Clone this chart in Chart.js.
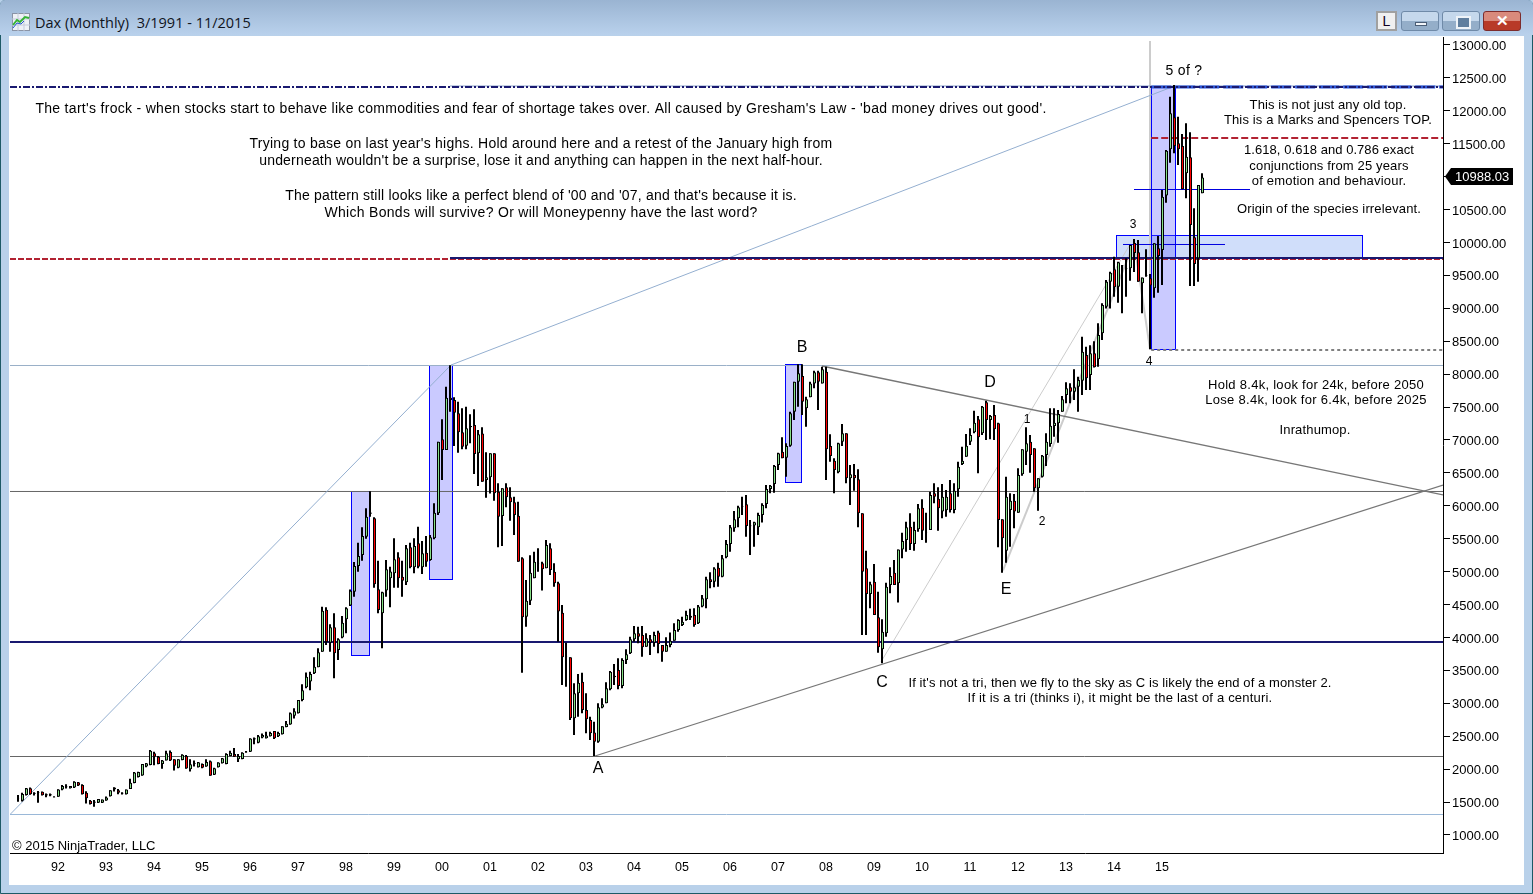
<!DOCTYPE html>
<html>
<head>
<meta charset="utf-8">
<title>Dax (Monthly)</title>
<script src="https://cdn.jsdelivr.net/npm/chart.js@4"></script>
<style>
    html, body { margin: 0; padding: 0; width: 1533px; height: 894px; overflow: hidden; background: #b9d1ea; font-family: "Liberation Sans", Arial, sans-serif; }
    #frame { position: absolute; left: 0; top: 0; width: 1531px; height: 892px; border: 1px solid #1d5a66; border-radius: 5px 5px 0 0; background: #b9d1ea; }
    #titlebar { position: absolute; left: 0; top: 0; width: 100%; height: 35px; background: linear-gradient(#9ab4d2, #b9d1ec); border-radius: 5px 5px 0 0; }
    #icon { position: absolute; left: 12px; top: 13px; }
    #caption { position: absolute; left: 35px; top: 13px; font: 14.5px "Open Sans", sans-serif; color: #10141c; white-space: pre; }
    .btn { position: absolute; top: 11px; height: 20px; box-sizing: border-box; border: 1px solid #6f8aa8; border-radius: 3px; background: linear-gradient(#c5d8ec 0 50%, #94aec9 50% 100%); }
    #btnL { left: 1376px; width: 21px; background: #f0f0f0; border: 2px solid #a0a0a0; border-radius: 0; text-align: center; font: 14px/16px "Liberation Sans"; color: #102; }
    #btnMin { left: 1401px; width: 38px; }
    #btnMin::after { content: ""; position: absolute; left: 13px; top: 10px; width: 12px; height: 4px; background: #f2f6fa; border: 1px solid #4a5d75; box-sizing: border-box; }
    #btnMax { left: 1442px; width: 38px; }
    #btnMax::after { content: ""; position: absolute; left: 13px; top: 4px; width: 11px; height: 9px; background: #5f7e9e; border: 2px solid #eef3f8; }
    #btnClose { left: 1483px; width: 38px; background: linear-gradient(#d98a7c 0 50%, #b83a28 50% 100%); border-color: #7d2c2c; color: #fff; text-align: center; font: bold 15px/17px "Liberation Sans"; }
    #chartBox { position: absolute; left: 9px; top: 36px; width: 1515px; height: 849px; background: #fff; }
</style>
</head>
<body>
<div id="frame"></div>
<div id="titlebar">
    <svg id="icon" width="18" height="18" viewBox="0 0 18 18">
        <rect x="0.5" y="0.5" width="17" height="17" fill="#eef1f6" stroke="#8a94a6"/>
        <path d="M0 6H18M0 12H18M6 0V18M12 0V18" stroke="#c5cbdb" fill="none"/>
        <path d="M1 12L5 7L8 9L13 4L17 5" stroke="#35b335" stroke-width="2" fill="none"/>
        <path d="M1 15L5 10L9 11L12 8" stroke="#2255cc" fill="none"/>
    </svg>
    <div id="caption">Dax (Monthly)  3/1991 - 11/2015</div>
    <div class="btn" id="btnL">L</div>
    <div class="btn" id="btnMin"></div>
    <div class="btn" id="btnMax"></div>
    <div class="btn" id="btnClose">✕</div>
</div>
<div id="chartBox"><canvas id="daxChart" width="1515" height="849"></canvas></div>

<script>
// Monthly bars from 3/1991 to 11/2015. Index 0 = March 1991.
const opens = [
    1550,1522,1608,1709,1625,1640,1655,1600,1620,1575,
    1582,1690,1725,1710,1720,1800,1760,1640,1520,1490,1490,1490,
    1525,1590,1690,1680,1630,1620,1700,1790,1880,1905,2040,2065,
    2240,2190,2080,2130,2260,2150,2020,2140,2200,2000,2080,2030,
    2080,2040,2120,1917,2030,2090,2080,2200,2230,2150,2155,2255,
    2265,2450,2400,2480,2470,2500,2580,2500,2530,2640,2680,2810,
    2850,3050,3243,3330,3455,3547,3785,4420,3920,4155,3810,4000,
    4276,4485,4696,5086,5253,5531,5900,5810,4732,4367,4712,4900,
    4975,5218,4924,4838,5370,5066,5430,5066,5288,5177,5506,5886,
    7010,6848,7643,7606,7405,7116,6914,7193,7228,6797,7100,6392,
    6433,6797,6215,5846,6281,6129,6053,5851,5203,4317,4560,4899,
    5127,5127,5051,5355,5000,4823,4377,3709,3699,2772,3152,3329,
    2899,2747,2555,2418,2935,3000,3213,3395,3507,3264,3659,3760,
    3972,4063,4038,3861,3972,3922,4074,3886,3785,3886,3952,4114,
    4190,4266,4300,4342,4215,4469,4580,4884,4848,5061,4924,5218,
    5420,5658,5810,5985,6023,5690,5700,5674,5860,6028,6256,6332,
    6620,6823,6732,6914,7430,7886,7972,7481,7648,7860,8028,7860,
    8038,6909,6686,6509,6974,7101,6418,6468,6403,5886,5051,4661,
    4848,4306,3820,4063,4797,4985,4823,5335,5481,5684,5420,5643,
    5972,5600,5633,6190,6109,5912,5932,6190,5937,6250,6636,6747,
    6974,7116,7314,7101,7572,7304,7380,7253,5795,5319,5937,6078,
    5896,6479,6823,6974,6873,6266,6443,6772,6939,7213,7253,7430,
    7684,7800,7734,7810,7901,8291,7987,8316,8225,8621,9025,9405,
    9593,9329,9650,9610,9608,9992,9851,9380,9500,9456,9304,9912,
    9886,10712,11415,11901,11506,11466,11051,11294,10079,9760,10747
];
const highs = [
    1608,1640,1715,1720,1650,1670,1660,1630,1630,1590,
    1695,1760,1770,1745,1815,1805,1770,1665,1530,1530,1545,1540,
    1585,1680,1725,1700,1650,1690,1855,1955,1960,2080,2095,2290,
    2265,2200,2140,2280,2285,2150,2150,2225,2215,2150,2130,2110,
    2085,2150,2130,2020,2105,2170,2240,2280,2320,2230,2255,2275,
    2470,2480,2520,2540,2570,2570,2580,2570,2650,2730,2860,2925,
    3050,3289,3470,3480,3700,3835,4468,4458,4200,4367,3988,4327,
    4458,4730,5147,5440,5673,5962,6220,5825,5167,4696,5177,5076,
    5506,5294,5167,5405,5440,5506,5684,5466,5542,5557,6038,6975,
    7314,7810,8134,7648,7582,7481,7506,7390,7466,7152,7192,6813,
    6797,6797,6342,6266,6342,6281,6139,6063,5218,4873,5250,5304,
    5355,5152,5481,5430,5127,4848,4494,3922,3699,3304,3446,3466,
    3152,2798,2722,3000,3076,3319,3491,3598,3684,3684,3820,4013,
    4175,4165,4175,4063,4038,4089,4104,3886,4003,4074,4215,4276,
    4316,4407,4438,4443,4494,4646,4924,4990,5066,5137,5253,5481,
    5709,5922,6003,6139,6165,5785,5760,5896,6038,6317,6317,6620,
    6808,7040,6950,7430,7886,8149,8149,7658,7886,8053,8053,8114,
    8114,7086,6722,6960,7243,7101,6620,6636,6554,5886,5319,4848,
    5116,4696,4276,4833,5066,5177,5335,5592,5760,5886,5760,6028,
    6099,5896,6215,6342,6281,6332,6240,6392,6342,6671,6899,7091,
    7177,7446,7364,7516,7598,7380,7532,7263,5795,6443,6190,6180,
    6570,6858,7192,7076,6873,6418,6772,7101,7481,7481,7456,7668,
    7876,7861,8073,7962,8570,8418,8440,8500,8772,9076,9430,9557,
    9785,9709,9660,9760,9962,10053,10038,9470,9896,9522,9988,10099,
    10798,11405,12215,12392,11912,11648,11810,11674,10519,10874,11051
];
const lows = [
    1506,1510,1600,1610,1600,1490,1600,1575,1590,1570,
    1580,1680,1705,1705,1715,1745,1615,1480,1465,1430,1485,1485,
    1520,1585,1660,1620,1615,1615,1700,1785,1875,1900,2030,2060,
    2060,2075,2005,2130,2125,1980,2015,2135,2005,1965,2040,2025,
    2015,2035,1900,1912,2025,2085,2075,2195,2185,2110,2150,2250,
    2260,2380,2395,2470,2465,2495,2460,2490,2525,2635,2675,2770,
    2845,3030,3230,3200,3445,3547,3785,3886,3785,3380,3660,3990,
    4065,4480,4620,5000,5167,5500,5836,4757,4367,3836,4620,4458,
    4757,4757,4620,4798,5050,4975,5050,4965,5076,5167,5491,5860,
    6392,6848,7430,6909,6807,6858,6858,6950,6484,6301,6367,6124,
    6189,6078,5370,5390,5977,5775,5557,5152,3466,4165,4494,4899,
    5000,4712,5051,4950,4770,3937,3279,3253,2747,2519,2798,2848,
    2545,2443,2200,2403,2925,3000,3200,3279,3213,3228,3598,3750,
    3937,3912,3709,3861,3734,3861,3760,3633,3785,3851,3952,4089,
    4175,4256,4266,4165,4205,4458,4443,4747,4762,4772,4914,5203,
    5304,5608,5674,5860,5532,5253,5380,5557,5745,5962,6190,6200,
    6544,6722,6443,6899,7304,7506,7380,7203,7648,7785,7456,7860,
    6392,6671,6190,6494,6909,6342,6013,6230,5674,4038,4038,4443,
    4342,3770,3608,4013,4671,4797,4530,5203,5304,5329,5319,5608,
    5481,5440,5633,6038,5623,5810,5835,5900,5886,6139,6620,6747,
    6924,7101,6494,7076,7000,7010,7000,5370,4985,5137,5380,5658,
    5896,6458,6620,6504,6215,5927,6430,6605,6899,7050,6960,7430,
    7557,7557,7608,7430,7684,7760,7760,8100,8114,8519,8999,8999,
    9177,9086,8924,9177,9420,9552,9405,8924,9480,8378,9162,9238,
    9355,10605,11213,11355,11178,10808,10671,9340,9340,9405,10747
];
const closes = [
    1555,1622,1709,1618,1640,1650,1605,1620,1600,1578,
    1690,1745,1735,1745,1810,1750,1618,1560,1470,1510,1545,1540,
    1570,1680,1720,1640,1640,1690,1795,1950,1955,2080,2090,2280,
    2190,2080,2130,2240,2130,2050,2150,2220,2010,2075,2090,2105,
    2020,2110,1900,2015,2100,2165,2230,2250,2190,2200,2250,2265,
    2465,2470,2500,2520,2510,2550,2470,2550,2650,2690,2850,2880,
    3050,3200,3405,3445,3555,3775,4408,3930,4155,3760,3975,4225,
    4443,4710,5086,5238,5540,5835,5880,4808,4418,4686,5035,5002,
    5187,4899,4863,5354,5066,5390,5076,5280,5150,5522,5896,6975,
    6848,7643,7606,7415,7116,6899,7177,7212,6787,7086,6367,6433,
    6797,6190,5835,6266,6129,6053,5861,5152,4306,4560,4985,5152,
    5130,5036,5405,5026,4823,4393,3699,3712,2772,3152,3314,2899,
    2757,2545,2418,2940,2985,3228,3481,3420,3264,3659,3744,3972,
    4063,4013,3851,3988,3922,4038,3902,3785,3886,3952,4114,4266,
    4240,4342,4330,4190,4469,4595,4884,4843,5048,4924,5203,5420,
    5674,5795,5977,5995,5694,5700,5750,5860,6013,6256,6306,6605,
    6797,6722,6909,7405,7886,8013,7582,7618,7860,8028,7886,8073,
    6858,6757,6544,6949,7101,6418,6479,6418,5886,5000,4661,4808,
    4342,3851,4089,4772,4934,4797,5335,5466,5674,5420,5633,5962,
    5623,5602,6165,6139,5962,6139,6139,5937,6230,6595,6686,6914,
    7076,7263,7041,7506,7304,7365,7162,5785,5506,6139,6078,5912,
    6468,6858,6949,6772,6266,6418,6762,6975,7218,7263,7395,7618,
    7785,7734,7800,7911,8342,7937,8316,8104,8595,9051,9405,9542,
    9319,9699,9640,9600,9962,9840,9405,9470,9490,9345,9988,9795,
    10696,11395,11962,11466,11415,10808,11304,10266,9674,10874,10988.03
];

const yearLabels = ['92','93','94','95','96','97','98','99','00','01','02','03','04','05','06','07','08','09','10','11','12','13','14','15'];
const yearIndexes = [10,22,34,46,58,70,82,94,106,118,130,142,154,166,178,190,202,214,226,238,250,262,274,286];
const priceTicks = [1000,1500,2000,2500,3000,3500,4000,4500,5000,5500,6000,6500,7000,7500,8000,8500,9000,9500,10000,10500,11000,11500,12000,12500,13000];

// Visible range of the two axes
const xMin = -2, xMax = 356.25;
const yMin = 726.5, yMax = 13121.5;

// Horizontal levels drawn on the chart
const levelTop = 12362, levelRedUpper = 11587, levelNeck = 9749, levelNeckBlue = 9764, levelDotted = 8367;
const levelB = 8131.6, levelMid = 6217.7, levelBlue = 3931.6, levelA = 2192.3, levelBottom = 1311.3;
const levelThin1 = 10805, levelThin2 = 9969.6;

// Highlight boxes: start index, end index, upper price, lower price
const boxStarts = [83.3, 102.8, 191.8, 283.3];
const boxEnds = [87.8, 108.4, 195.7, 289.2];
const boxTops = [6222, 8139, 8154, 12377];
const boxBottoms = [3729, 4888, 6366, 8382];
const zoneBox = [274.5, 335.9, 10109, 9765];

const lastClose = closes[closes.length - 1];

const segment = (label, x0, y0, x1, y1, color, width, dash) => ({
    type: 'line', label, order: 5, xAxisID: 'x', yAxisID: 'y',
    data: [{ x: x0, y: y0 }, { x: x1, y: y1 }],
    borderColor: color, borderWidth: width, borderDash: dash || [],
    pointRadius: 0, tension: 0, fill: false, borderCapStyle: 'butt'
});

// Same order value: the earlier dataset ends up on top
const drawnLines = [
    segment('thin a', 279, levelThin1, 308, levelThin1, '#0000e0', 1),
    segment('thin b', 276.25, levelThin2, 301.75, levelThin2, '#0000e0', 1),
    segment('top', xMin, levelTop, xMax, levelTop, '#191970', 2, [7, 2, 2, 2]),
    segment('top lower', 283.3, levelTop, xMax, levelTop, '#2a55d8', 3, [20, 4]),
    segment('top thin', 108, levelTop + 15, xMax, levelTop + 15, '#8aa0c8', 1),
    segment('upper red', 283.3, levelRedUpper, xMax, levelRedUpper, '#b22232', 2, [7, 3]),
    segment('neck', 108, levelNeckBlue, xMax, levelNeckBlue, '#191970', 2),
    segment('neck red', xMin, levelNeck, xMax, levelNeck, '#b22232', 2, [6, 2]),
    segment('dotted', 283.3, levelDotted, xMax, levelDotted, '#808080', 2, [3, 3]),
    segment('blue level', xMin, levelBlue, xMax, levelBlue, '#191970', 2),
    segment('ac', 144.25, 2200, xMax, 6316, '#777777', 1.3),
    segment('bd', 201, 8124, xMax, 6165, '#777777', 1.3),
    segment('frock', xMin, levelBottom, 108.25, 8139, '#94afd0', 1),
    segment('frock2', 108.25, 8139, 288.5, 12362, '#94afd0', 1),
    segment('b level', xMin, levelB, xMax, levelB, '#9ab0c8', 1),
    segment('mid level', xMin, levelMid, xMax, levelMid, '#666666', 1),
    segment('a level', xMin, levelA, xMax, levelA, '#666666', 1),
    segment('bottom level', xMin, levelBottom, xMax, levelBottom, '#9ab8d8', 1),
    segment('c thin', 215.75, 3630, 278, 9970, '#cccccc', 1),
    segment('e thick', 246.25, 5020, 278, 9840, '#cccccc', 2),
    segment('four', 279, 10020, 283, 8380, '#cccccc', 2),
    segment('five', 283, 13060, 283, 8380, '#cccccc', 2)
];

const labelFont = '"Liberation Sans", Arial, sans-serif';
// text, centre x and y on the page, font size, letter spacing
const notes = [
    ["The tart's frock - when stocks start to behave like commodities and fear of shortage takes over. All caused by Gresham's Law - 'bad money drives out good'.", 541, 109, 14, 0.3],
    ["Trying to base on last year's highs. Hold around here and a retest of the January high from", 541, 144, 14, 0.25],
    ["underneath wouldn't be a surprise, lose it and anything can happen in the next half-hour.", 541, 161, 14, 0.19],
    ["The pattern still looks like a perfect blend of '00 and '07, and that's because it is.", 541, 196, 14, 0.2],
    ["Which Bonds will survive? Or will Moneypenny have the last word?", 541, 213, 14, 0.3],
    ["This is not just any old top.", 1328, 105, 13, 0.1],
    ["This is a Marks and Spencers TOP.", 1328, 120, 13, 0.15],
    ["1.618, 0.618 and 0.786 exact", 1329, 150, 13, 0.05],
    ["conjunctions from 25 years", 1329, 166, 13, 0.15],
    ["of emotion and behaviour.", 1329, 181, 13, 0.2],
    ["Origin of the species irrelevant.", 1329, 209, 13, 0.15],
    ["5 of ?", 1184, 71, 14, 0.3],
    ["3", 1133, 225, 12, 0],
    ["4", 1149, 362, 12, 0],
    ["1", 1027, 420, 12, 0],
    ["2", 1042, 522, 12, 0],
    ["A", 598, 769, 16, 0],
    ["B", 802, 348, 16, 0],
    ["C", 882, 683, 16, 0],
    ["D", 990, 383, 16, 0],
    ["E", 1006, 590, 16, 0],
    ["Hold 8.4k, look for 24k, before 2050", 1316, 385, 13, 0.28],
    ["Lose 8.4k, look for 6.4k, before 2025", 1316, 400, 13, 0.28],
    ["Inrathumop.", 1315, 430, 13, 0.15],
    ["If it's not a tri, then we fly to the sky as C is likely the end of a monster 2.", 1120, 683, 13, 0.1],
    ["If it is a tri (thinks i), it might be the last of a centuri.", 1120, 698, 13, 0.2]
];

// Boxes sit under the bars and the drawn lines
const boxesPlugin = {
    id: 'boxes',
    beforeDatasetsDraw(chart) {
        const { ctx, scales: { x, y } } = chart;
        ctx.save();
        const drawBox = (s, e, t, b, fill) => {
            const left = Math.round(x.getPixelForValue(s)) + 0.5, right = Math.round(x.getPixelForValue(e)) + 0.5;
            const top = Math.round(y.getPixelForValue(t)) + 0.5, bottom = Math.round(y.getPixelForValue(b)) + 0.5;
            ctx.fillStyle = fill;
            ctx.fillRect(left, top, right - left, bottom - top);
            ctx.strokeStyle = '#0000ff';
            ctx.lineWidth = 1;
            ctx.strokeRect(left, top, right - left, bottom - top);
        };
        drawBox(zoneBox[0], zoneBox[1], zoneBox[2], zoneBox[3], '#d0defa');
        boxStarts.forEach((s, i) => drawBox(s, boxEnds[i], boxTops[i], boxBottoms[i], 'rgba(90, 90, 255, 0.32)'));
        ctx.restore();
    }
};

// Notes, copyright and the last price tag
const notesPlugin = {
    id: 'notes',
    afterDraw(chart) {
        const { ctx, scales: { y } } = chart;
        const box = chart.canvas.getBoundingClientRect();
        ctx.save();
        ctx.textBaseline = 'middle';
        ctx.fillStyle = '#000';
        ctx.textAlign = 'center';
        notes.forEach(([text, px, py, size, spacing]) => {
            ctx.font = size + 'px ' + labelFont;
            ctx.letterSpacing = spacing + 'px';
            ctx.fillText(text, px - box.left, py - box.top);
        });
        ctx.letterSpacing = '0px';
        ctx.textAlign = 'left';
        ctx.font = '13px ' + labelFont;
        ctx.fillText('© 2015 NinjaTrader, LLC', 3, 810);

        const tagY = y.getPixelForValue(lastClose) - 1;
        const left = chart.chartArea.right + 2;
        ctx.fillStyle = '#000';
        ctx.beginPath();
        ctx.moveTo(left, tagY);
        ctx.lineTo(left + 6, tagY - 8.5);
        ctx.lineTo(left + 68, tagY - 8.5);
        ctx.lineTo(left + 68, tagY + 8.5);
        ctx.lineTo(left + 6, tagY + 8.5);
        ctx.closePath();
        ctx.fill();
        ctx.fillStyle = '#fff';
        ctx.font = '13px ' + labelFont;
        ctx.fillText(lastClose.toFixed(2), left + 10, tagY + 1);
        ctx.restore();
    }
};

const indexes = opens.map((_, i) => i);

new Chart(document.getElementById('daxChart'), {
    type: 'bar',
    data: {
        datasets: [
            {
                label: 'Body', order: 0, xAxisID: 'xBody', yAxisID: 'y', grouped: false,
                data: indexes.map(i => ({ x: i, y: [opens[i], closes[i]] })),
                backgroundColor: indexes.map(i => closes[i] >= opens[i] ? '#86e086' : '#ff0000'),
                borderColor: '#000000', borderWidth: 1, borderSkipped: false,
                barThickness: 3, inflateAmount: 0
            },
            {
                label: 'Range', order: 1, xAxisID: 'x', yAxisID: 'y', grouped: false,
                data: indexes.map(i => ({ x: i, y: [lows[i], highs[i]] })),
                backgroundColor: '#000000', borderWidth: 0,
                barThickness: 2, inflateAmount: 0
            },
            ...drawnLines
        ]
    },
    plugins: [boxesPlugin, notesPlugin],
    options: {
        responsive: false,
        animation: false,
        devicePixelRatio: 1,
        layout: { padding: { left: 1, top: 1, right: 0, bottom: 0 } },
        plugins: { legend: { display: false }, tooltip: { enabled: false }, title: { display: false } },
        scales: {
            x: {
                type: 'linear', position: 'bottom', min: xMin, max: xMax, offset: false,
                border: { color: '#000', width: 1 },
                grid: { drawOnChartArea: false, drawTicks: false, offset: false },
                afterBuildTicks: (axis) => { axis.ticks = yearIndexes.map(v => ({ value: v })); },
                afterFit: (axis) => { axis.height = 32; axis.paddingLeft = 0; axis.paddingRight = 0; },
                ticks: {
                    autoSkip: false, maxRotation: 0, padding: 7, color: '#000',
                    font: { family: labelFont, size: 12.5 },
                    callback: (v) => yearLabels[yearIndexes.indexOf(v)]
                }
            },
            // same months as x, half a pixel over: bar bodies are 3px wide
            xBody: { type: 'linear', axis: 'x', display: false, min: xMin - 0.125, max: xMax - 0.125, offset: false, grid: { offset: false } },
            y: {
                type: 'linear', position: 'right', min: yMin, max: yMax, beginAtZero: false,
                border: { color: '#000', width: 1 },
                grid: { drawOnChartArea: false, tickLength: 7, color: '#000' },
                afterBuildTicks: (axis) => { axis.ticks = priceTicks.map(v => ({ value: v })); },
                afterFit: (axis) => { axis.width = 81; axis.paddingTop = 0; axis.paddingBottom = 0; },
                ticks: {
                    padding: 2, color: '#000', align: 'center', labelOffset: 1.5,
                    font: { family: labelFont, size: 13 },
                    callback: (v) => v.toFixed(2)
                }
            }
        }
    }
});
</script>
</body>
</html>
